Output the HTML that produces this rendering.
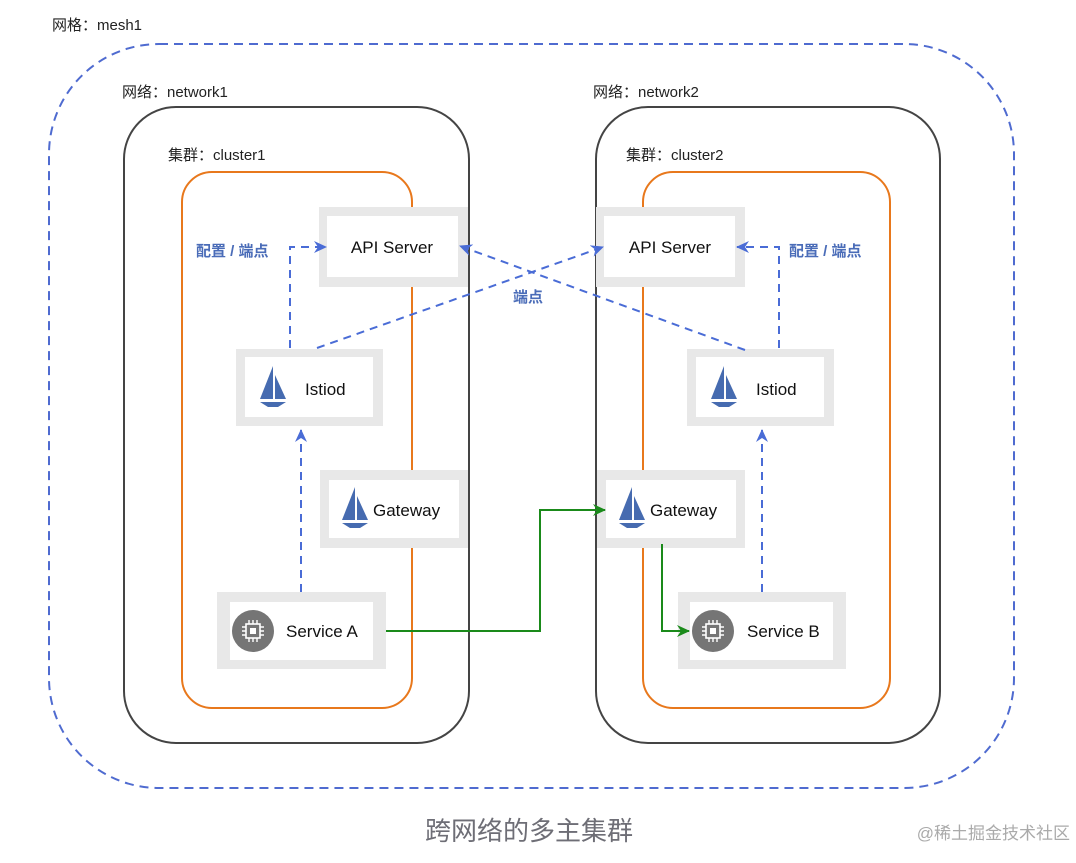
<!DOCTYPE html>
<html><head><meta charset="utf-8"><style>
body{margin:0;background:#fff;width:1076px;height:858px;overflow:hidden}
svg text{font-family:"Liberation Sans","Noto Sans CJK SC",sans-serif}
</style></head><body>
<svg width="1076" height="858" viewBox="0 0 1076 858" xmlns="http://www.w3.org/2000/svg">
<defs>
<marker id="ab" markerWidth="13" markerHeight="12" refX="12" refY="6" orient="auto" markerUnits="userSpaceOnUse"><path d="M0,0 L13,6 L0,12 L4,6 z" fill="#4a6cd6"/></marker>
<marker id="ag" markerWidth="13" markerHeight="12" refX="12" refY="6" orient="auto" markerUnits="userSpaceOnUse"><path d="M0,0 L13,6 L0,12 L4,6 z" fill="#1a8a1a"/></marker>
<g id="sail"><path d="M13,0 L13,33 L0,33 Z" fill="#466bb0"/><path d="M15,9 L15,33 L26,33 Z" fill="#466bb0"/><path d="M0,36 L26,36 L18,41 L8,41 Z" fill="#466bb0"/></g>
<g id="chip"><circle cx="0" cy="0" r="21" fill="#757575"/><rect x="-7" y="-7" width="14" height="14" fill="none" stroke="#fff" stroke-width="1.6"/><rect x="-3" y="-3" width="6" height="6" fill="#fff"/><path d="M-4,-7v-4M0,-7v-4M4,-7v-4M-4,7v4M0,7v4M4,7v4M-7,-4h-4M-7,0h-4M-7,4h-4M7,-4h4M7,0h4M7,4h4" stroke="#fff" stroke-width="1.4"/></g>
</defs>
<text x="52" y="30" font-size="15" fill="#222">网格：mesh1</text>
<rect x="49" y="44" width="965" height="744" rx="110" fill="none" stroke="#4f6bd0" stroke-width="2" stroke-dasharray="9,6"/>
<text x="122" y="97" font-size="15" fill="#222">网络：network1</text>
<text x="593" y="97" font-size="15" fill="#222">网络：network2</text>
<rect x="124" y="107" width="345" height="636" rx="52" fill="none" stroke="#444" stroke-width="2"/>
<rect x="596" y="107" width="344" height="636" rx="52" fill="none" stroke="#444" stroke-width="2"/>
<text x="168" y="160" font-size="15" fill="#222">集群：cluster1</text>
<text x="626" y="160" font-size="15" fill="#222">集群：cluster2</text>
<rect x="182" y="172" width="230" height="536" rx="30" fill="none" stroke="#e8781c" stroke-width="2"/>
<rect x="643" y="172" width="247" height="536" rx="30" fill="none" stroke="#e8781c" stroke-width="2"/>

<g>
<rect x="319" y="207" width="149" height="80" fill="#e8e8e8"/><rect x="327" y="216" width="131" height="61" fill="#fff"/>
<text x="392" y="253" font-size="17" text-anchor="middle" fill="#111">API Server</text>
<rect x="596" y="207" width="149" height="80" fill="#e8e8e8"/><rect x="604" y="216" width="131" height="61" fill="#fff"/>
<text x="670" y="253" font-size="17" text-anchor="middle" fill="#111">API Server</text>

<rect x="236" y="349" width="147" height="77" fill="#e8e8e8"/><rect x="245" y="357" width="128" height="60" fill="#fff"/>
<use href="#sail" x="260" y="366"/><text x="305" y="395" font-size="17" fill="#111">Istiod</text>
<rect x="687" y="349" width="147" height="77" fill="#e8e8e8"/><rect x="696" y="357" width="128" height="60" fill="#fff"/>
<use href="#sail" x="711" y="366"/><text x="756" y="395" font-size="17" fill="#111">Istiod</text>

<rect x="320" y="470" width="148" height="78" fill="#e8e8e8"/><rect x="329" y="480" width="130" height="58" fill="#fff"/>
<use href="#sail" x="342" y="487"/><text x="373" y="516" font-size="17" fill="#111">Gateway</text>
<rect x="597" y="470" width="148" height="78" fill="#e8e8e8"/><rect x="606" y="480" width="130" height="58" fill="#fff"/>
<use href="#sail" x="619" y="487"/><text x="650" y="516" font-size="17" fill="#111">Gateway</text>

<rect x="217" y="592" width="169" height="77" fill="#e8e8e8"/><rect x="230" y="602" width="143" height="58" fill="#fff"/>
<use href="#chip" x="253" y="631"/><text x="286" y="637" font-size="17" fill="#111">Service A</text>
<rect x="678" y="592" width="168" height="77" fill="#e8e8e8"/><rect x="690" y="602" width="143" height="58" fill="#fff"/>
<use href="#chip" x="713" y="631"/><text x="747" y="637" font-size="17" fill="#111">Service B</text>
</g>

<g fill="none" stroke="#4a6cd6" stroke-width="2" stroke-dasharray="8,6">
<path d="M290,348 V247 H326" marker-end="url(#ab)"/>
<path d="M779,348 V247 H737" marker-end="url(#ab)"/>
<path d="M317,348 L603,247" marker-end="url(#ab)"/>
<path d="M745,350 L460,246" marker-end="url(#ab)"/>
<path d="M301,592 V430" marker-end="url(#ab)"/>
<path d="M762,592 V430" marker-end="url(#ab)"/>
</g>
<text x="196" y="256" font-size="15" font-weight="bold" fill="#4a6cb8">配置 / 端点</text>
<text x="789" y="256" font-size="15" font-weight="bold" fill="#4a6cb8">配置 / 端点</text>
<text x="513" y="302" font-size="15" font-weight="bold" fill="#4a6cb8">端点</text>

<g fill="none" stroke="#1a8a1a" stroke-width="2">
<path d="M386,631 H540 V510 H605" marker-end="url(#ag)"/>
<path d="M662,544 V631 H689" marker-end="url(#ag)"/>
</g>

<text x="425" y="840" font-size="26" fill="#6e6e76">跨网络的多主集群</text>
<text x="1070" y="839" font-size="17" text-anchor="end" fill="#aaa" font-family="Liberation Serif,Noto Serif CJK SC,serif">@稀土掘金技术社区</text>
</svg>
</body></html>
